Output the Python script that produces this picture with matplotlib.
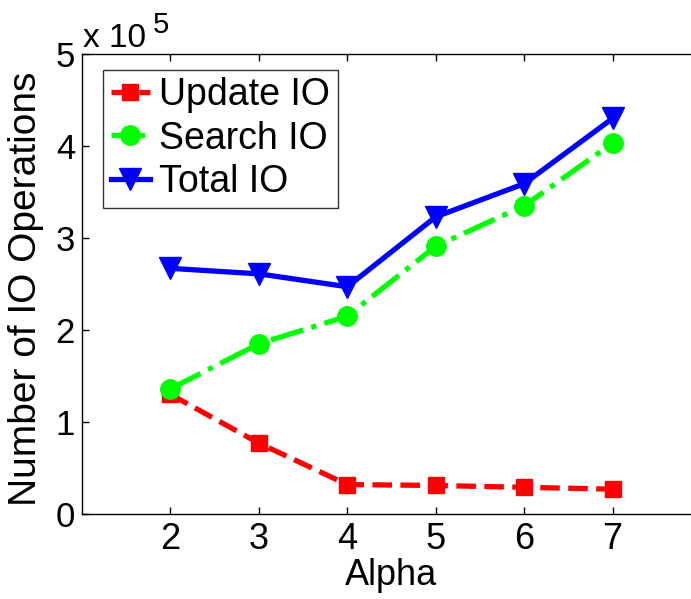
import numpy as np
import matplotlib.pyplot as plt
from matplotlib.ticker import FuncFormatter

plt.rcParams['font.family'] = ['Liberation Sans', 'DejaVu Sans']

# values
alpha = [2, 3, 4, 5, 6, 7]
update_io = [1.30e5, 0.77e5, 0.32e5, 0.31e5, 0.29e5, 0.27e5]
search_io = [1.36e5, 1.85e5, 2.15e5, 2.91e5, 3.35e5, 4.03e5]
total_io = [2.67e5, 2.61e5, 2.47e5, 3.23e5, 3.59e5, 4.30e5]

fig = plt.figure(figsize=(6.91, 5.99), dpi=100)
ax = fig.add_axes([0.1187, 0.1419, 0.8958, 0.768])

ax.plot(alpha, update_io, color='red', ls='--', lw=3.8, marker='s', ms=11, label='Update IO')
ax.plot(alpha, search_io, color=(0, 1, 0), ls='-.', lw=3.8, marker='o', ms=14, label='Search IO')
ax.plot(alpha, total_io, color='blue', ls='-', lw=3.8, marker='v', ms=16, label='Total IO')

ax.set_xlim(1, 8)
ax.set_ylim(0, 5e5)
ax.set_xticks(alpha)
ax.set_yticks(np.arange(0, 6) * 1e5)
ax.yaxis.set_major_formatter(FuncFormatter(lambda v, p: '%d' % round(v / 1e5)))
ax.tick_params(direction='in', top=True, right=True, length=5, width=1)
ax.tick_params(axis='x', labelsize=26, pad=6)
ax.tick_params(axis='y', labelsize=25, pad=5)
for s in ax.spines.values():
    s.set_linewidth(1)

# MATLAB style exponent label
ax.text(0.002, 1.015, 'x 10', transform=ax.transAxes, fontsize=24, ha='left', va='baseline')
ax.text(0.114, 1.045, '5', transform=ax.transAxes, fontsize=21, ha='left', va='baseline')

ax.set_xlabel('Alpha', fontsize=26)
ax.xaxis.set_label_coords(0.5, -0.095)
ax.set_ylabel('Number of IO Operations', fontsize=28)
ax.yaxis.set_label_coords(-0.062, 0.49)

leg = ax.legend(loc='upper left', bbox_to_anchor=(0.034, 0.966), borderaxespad=0,
                fontsize=27, frameon=True, fancybox=False, edgecolor='black',
                borderpad=0.2, labelspacing=0.2, handlelength=1.05, handletextpad=0.25)
leg.get_frame().set_linewidth(1)

fig.savefig('out.png', dpi=100)
